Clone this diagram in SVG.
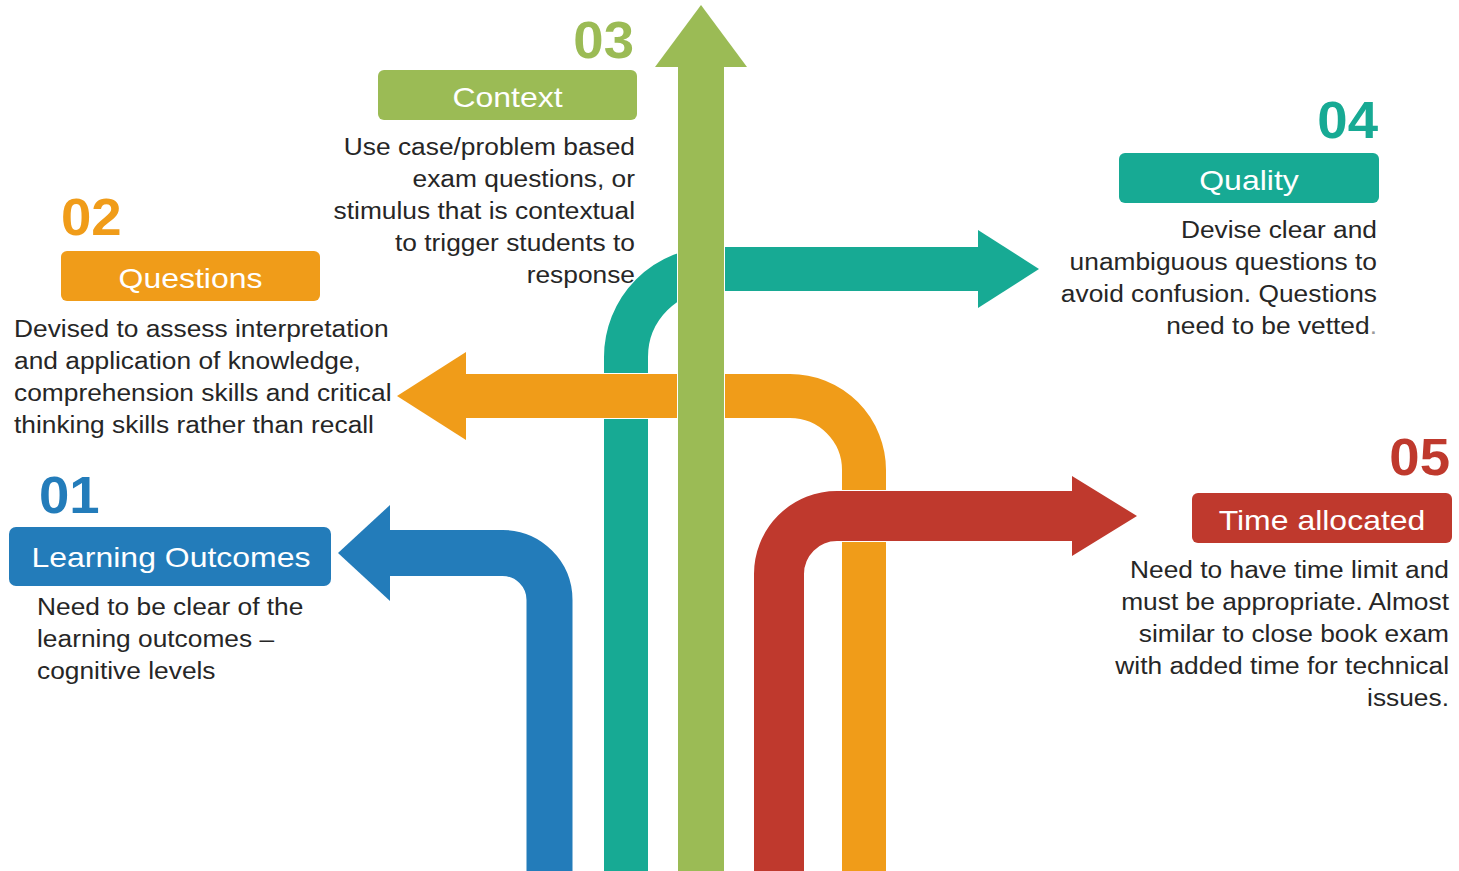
<svg xmlns="http://www.w3.org/2000/svg" width="1459" height="871" viewBox="0 0 1459 871">
<style>
.body{font-family:"Liberation Sans",Arial,sans-serif;font-size:23.3px;fill:#262626}
.title{font-family:"Liberation Sans",Arial,sans-serif;font-size:28.3px;fill:#ffffff;text-anchor:middle}
.num{font-family:"Liberation Sans",Arial,sans-serif;font-size:51px;font-weight:bold}
.end{text-anchor:end}
.shaft{fill:none;stroke-linecap:butt;stroke-linejoin:round}
.edge{fill:none;stroke:#ffffff;stroke-linecap:butt}
.headedge{fill:#ffffff;stroke:#ffffff;stroke-width:2;stroke-linejoin:miter}
</style>
<rect width="1459" height="871" fill="#ffffff"/>
<g id="connectors">
  <g id="arrow-quality">
    <path class="edge" stroke-width="46" d="M626,872 V357 A88,88 0 0 1 714,269 H980"/>
    <polygon class="headedge" points="978,230 1039,269 978,308"/>
    <path class="shaft" stroke="#17AA94" stroke-width="44" d="M626,872 V357 A88,88 0 0 1 714,269 H980"/>
    <polygon fill="#17AA94" points="978,230 1039,269 978,308"/>
  </g>
  <g id="arrow-questions">
    <path class="edge" stroke-width="46" d="M464,396 H790 A74,74 0 0 1 864,470 V872"/>
    <polygon class="headedge" points="466,352 397,396 466,440"/>
    <path class="shaft" stroke="#F09C19" stroke-width="44" d="M464,396 H790 A74,74 0 0 1 864,470 V872"/>
    <polygon fill="#F09C19" points="466,352 397,396 466,440"/>
  </g>
  <g id="arrow-context">
    <path class="edge" stroke-width="48" d="M701,872 V65"/>
    <polygon class="headedge" points="655,67 701,5 747,67"/>
    <path class="shaft" stroke="#9BBB55" stroke-width="46" d="M701,872 V65"/>
    <polygon fill="#9BBB55" points="655,67 701,5 747,67"/>
  </g>
  <g id="arrow-time">
    <path class="edge" stroke-width="52" d="M779,872 V574 A58,58 0 0 1 837,516 H1074"/>
    <polygon class="headedge" points="1072,476 1137,516 1072,556"/>
    <path class="shaft" stroke="#BF392D" stroke-width="50" d="M779,872 V574 A58,58 0 0 1 837,516 H1074"/>
    <polygon fill="#BF392D" points="1072,476 1137,516 1072,556"/>
  </g>
  <g id="arrow-outcomes">
    <path class="shaft" stroke="#237CBA" stroke-width="46" d="M549.5,872 V600 A47,47 0 0 0 502.5,553 H388"/>
    <polygon fill="#237CBA" points="390,505 338,553 390,601"/>
  </g>
</g>

<g id="node-01">
  <g transform="translate(39,0) scale(1.07,1)"><text class="num" x="0" y="513" fill="#237CBA">01</text></g>
  <rect x="9" y="527" width="322" height="59" rx="7" fill="#237CBA"/>
  <g transform="translate(171,0) scale(1.13,1)"><text class="title" x="0" y="567">Learning Outcomes</text></g>
  <g transform="translate(37,0) scale(1.13,1)">
    <text class="body" x="0" y="615">Need to be clear of the</text>
    <text class="body" x="0" y="647">learning outcomes –</text>
    <text class="body" x="0" y="679">cognitive levels</text>
  </g>
</g>

<g id="node-02">
  <g transform="translate(61,0) scale(1.07,1)"><text class="num" x="0" y="235" fill="#F09C19">02</text></g>
  <rect x="61" y="251" width="259" height="50" rx="6" fill="#F09C19"/>
  <g transform="translate(190.5,0) scale(1.13,1)"><text class="title" x="0" y="288">Questions</text></g>
  <g transform="translate(14,0) scale(1.13,1)">
    <text class="body" x="0" y="337">Devised to assess interpretation</text>
    <text class="body" x="0" y="369">and application of knowledge,</text>
    <text class="body" x="0" y="401">comprehension skills and critical</text>
    <text class="body" x="0" y="433">thinking skills rather than recall</text>
  </g>
</g>

<g id="node-03">
  <g transform="translate(634,0) scale(1.07,1)"><text class="num end" x="0" y="58" fill="#9BBB55">03</text></g>
  <rect x="378" y="70" width="259" height="50" rx="6" fill="#9BBB55"/>
  <g transform="translate(507.5,0) scale(1.13,1)"><text class="title" x="0" y="107">Context</text></g>
  <g transform="translate(635,0) scale(1.13,1)">
    <text class="body end" x="0" y="155">Use case/problem based</text>
    <text class="body end" x="0" y="187">exam questions, or</text>
    <text class="body end" x="0" y="219">stimulus that is contextual</text>
    <text class="body end" x="0" y="251">to trigger students to</text>
    <text class="body end" x="0" y="283">response</text>
  </g>
</g>

<g id="node-04">
  <g transform="translate(1378,0) scale(1.07,1)"><text class="num end" x="0" y="138" fill="#17AA94">04</text></g>
  <rect x="1119" y="153" width="260" height="50" rx="6" fill="#17AA94"/>
  <g transform="translate(1249,0) scale(1.13,1)"><text class="title" x="0" y="190">Quality</text></g>
  <g transform="translate(1377,0) scale(1.13,1)">
    <text class="body end" x="0" y="238">Devise clear and</text>
    <text class="body end" x="0" y="270">unambiguous questions to</text>
    <text class="body end" x="0" y="302">avoid confusion. Questions</text>
    <text class="body end" x="0" y="334">need to be vetted<tspan fill="#9a9a9a">.</tspan></text>
  </g>
</g>

<g id="node-05">
  <g transform="translate(1450,0) scale(1.07,1)"><text class="num end" x="0" y="475" fill="#BF392D">05</text></g>
  <rect x="1192" y="493" width="260" height="50" rx="6" fill="#BF392D"/>
  <g transform="translate(1322,0) scale(1.13,1)"><text class="title" x="0" y="530">Time allocated</text></g>
  <g transform="translate(1449,0) scale(1.13,1)">
    <text class="body end" x="0" y="578">Need to have time limit and</text>
    <text class="body end" x="0" y="610">must be appropriate. Almost</text>
    <text class="body end" x="0" y="642">similar to close book exam</text>
    <text class="body end" x="0" y="674">with added time for technical</text>
    <text class="body end" x="0" y="706">issues.</text>
  </g>
</g>
</svg>
